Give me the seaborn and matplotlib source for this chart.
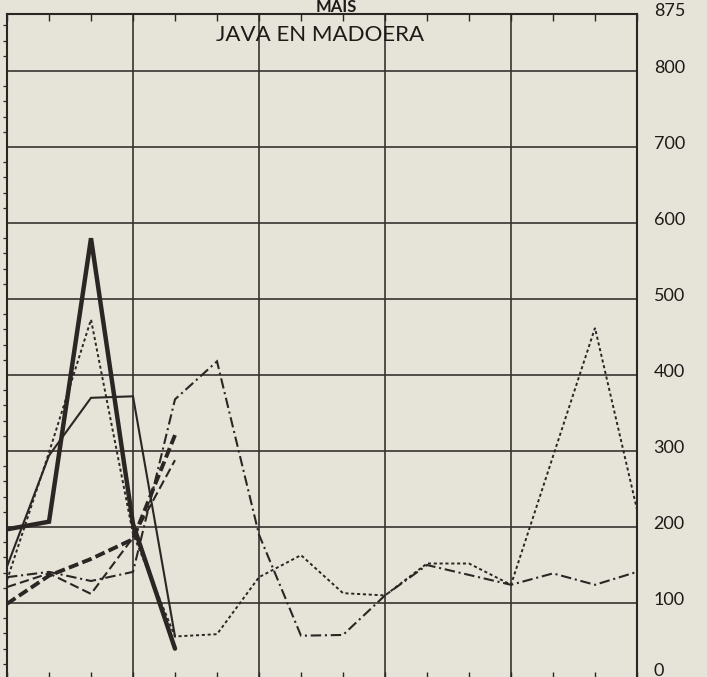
import numpy as np
import pandas as pd
import matplotlib
matplotlib.use("Agg")
import matplotlib.pyplot as plt
import matplotlib.transforms as mtransforms
import seaborn as sns

# ---------------- data ----------------
heading = "MAIS"
title = "JAVA EN MADOERA"
periods = list(range(16))
y_ticks = [0, 100, 200, 300, 400, 500, 600, 700, 800, 875]
y_tick_labels = ["0", "100", "200", "300", "400", "500", "600", "700", "800", "875"]

thick_solid = [197, 207, 580, 204, 40]
thin_solid = [148, 294, 370, 372, 56]
thick_dashed = [99, 136, 158, 184, 321]
medium_dashed = [121, 139, 112, 186, 288]
dotted = [130, 298, 473, 191, 56, 59, 134, 163, 113, 110, 152, 152, 124, 293, 462, 223]
dash_dot = [134, 141, 129, 141, 368, 418, 190, 57, 58, 110, 150, 137, 124, 139, 124, 141]

# ---------------- style ----------------
paper = "#e6e3d8"
ink = "#2b2624"
grid_ink = "#38332f"

sns.set_theme(style="white")
plt.rcParams["font.family"] = ["Lato", "DejaVu Sans"]

fig = plt.figure(figsize=(7.07, 6.77), dpi=100, facecolor=paper)
ax = fig.add_axes([7 / 707, -0.003, 630 / 707, 0.9823])
ax.set_facecolor(paper)

series = [
    (thick_solid, dict(linewidth=3.2, linestyle="-")),
    (thin_solid, dict(linewidth=1.5, linestyle="-")),
    (thick_dashed, dict(linewidth=2.8, linestyle=(0, (2.6, 1.1)))),
    (medium_dashed, dict(linewidth=1.5, linestyle=(0, (4.5, 2.0)))),
    (dotted, dict(linewidth=1.4, linestyle=(0, (1.6, 1.4)))),
    (dash_dot, dict(linewidth=1.5, linestyle=(0, (5.0, 1.8, 1.0, 1.8)))),
]
for values, kw in series:
    df = pd.DataFrame({"period": periods[:len(values)], "value": values})
    sns.lineplot(data=df, x="period", y="value", ax=ax, color=ink,
                 solid_joinstyle="miter", dash_joinstyle="miter", **kw)

ax.set_xlim(0, 15)
ax.set_ylim(0, 875)
ax.set_xlabel("")
ax.set_ylabel("")

# grid: vertical every 3 periods, horizontal every 100
ax.set_xticks([0, 3, 6, 9, 12, 15])
ax.set_xticks(periods, minor=True)
ax.tick_params(axis="x", which="both", bottom=True, top=True, direction="in",
               length=5, width=1.0, color=ink, labelbottom=False)

ax.yaxis.tick_right()
ax.set_yticks(y_ticks)
ax.set_yticklabels(y_tick_labels)
ax.set_yticks(np.arange(0, 876, 20), minor=True)
ax.tick_params(axis="y", which="major", length=0, pad=12, labelsize=13,
               labelcolor="#1e1a18", right=True, left=False)
ax.tick_params(axis="y", which="minor", left=True, right=False, direction="out",
               length=3, width=0.9, color=ink)
shift = mtransforms.ScaledTranslation(0, 5 / 100, fig.dpi_scale_trans)
shift_zero = mtransforms.ScaledTranslation(0, 10 / 100, fig.dpi_scale_trans)
for lab in ax.get_yticklabels():
    if lab.get_text() == "0":
        lab.set_transform(lab.get_transform() + shift_zero)
    else:
        lab.set_transform(lab.get_transform() + shift)

ax.grid(True, which="major", color=grid_ink, linewidth=1.2)
for sp in ax.spines.values():
    sp.set_visible(True)
    sp.set_color(ink)
    sp.set_linewidth(1.5)

ax.text(0.497, 0.969, title, transform=ax.transAxes, ha="center", va="center",
        fontsize=16, color="#1e1a18")
fig.text(0.475, (677 - 12) / 677, heading, ha="center", va="baseline",
         fontsize=12, fontweight="bold", color="#1e1a18")

fig.savefig("out.png", dpi=100, facecolor=paper)
